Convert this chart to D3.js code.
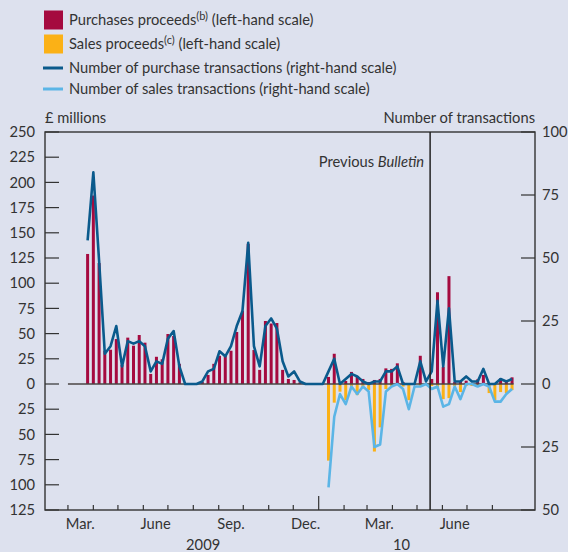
<!DOCTYPE html>
<html>
<head>
<meta charset="utf-8">
<script src="https://cdn.jsdelivr.net/npm/d3@7/dist/d3.min.js"></script>
<style>
  html, body { margin: 0; padding: 0; background: #dde1ee; }
  svg { display: block; }
  text { font-family: "Lato", "Open Sans", sans-serif; fill: #333; }
</style>
</head>
<body>
<svg id="chart" width="568" height="552"></svg>
<script>
// ---------- DATA ----------
const startWeek = "2009-03-25";          // first weekly observation
const purchases = [129,187,120,33,34,44.6,19,46,38,48.6,41,10,27,24.5,49.6,47.6,20,0,0,0,
  2,9,20,28,28,33,51.6,72.7,139,33.7,14,62.5,60,60.5,14,5,4,1.5,0,0,
  0,0,7,30,1,3,12,8,5,2,4,5,15.5,15,20.5,2,0,0,28,1,
  5,91,17,107,2,3,3.3,1,4.6,9,1,1,5.6,2,6.6];
const sales = [0,0,0,0,0,0,0,0,0,0,0,0,0,0,0,0,0,0,0,0,
  0,0,0,0,0,0,0,0,0,0,0,0,0,0,0,0,0,0,0,0,
  0,0,-76,-18.5,-7.6,-16,-2,-11,-3,-6,-67,-43,-5,-3,-1,-2.6,-16,-1,-2,0,
  -2,-3,-15,-14,-2,-8,-2,-2,-2,-1,-9,-16,-8,-9,-6];
const purchaseTx = [57,84,49,12,15,23,7,17,16,17,15,5,9,8,18,21,7,0,0,0,
  1,5,6,13,11,15,23,29,56,15,7,23,26,22,9,3,5,1,0,0,
  0,0,5,10,0,2,4,3,1,0,1,1,5,5,7,0,0,0,9,1,
  5,33,7,30,1,1,3,1,1,6,0,0,2,1,2];
const salesTx = [null,null,null,null,null,null,null,null,null,null,null,null,null,null,null,null,null,null,null,null,
  null,null,null,null,null,null,null,null,null,null,null,null,null,null,null,null,null,null,null,null,
  null,null,-41,-13,-4,-8,-1,-4,-1,-3,-25,-24,-3,-1,0,-2,-10,-1,-1,0,
  -2,-1,-9,-8,-1,-6,0,0,-1,0,-1,-7,-7,-4,-2];
const leftTicks = [250,225,200,175,150,125,100,75,50,25,0,-25,-50,-75,-100,-125];
const rightTicks = [100,75,50,25,0,-25,-50];
const monthLabels = [["2009-03-16","Mar."],["2009-06-16","June"],["2009-09-16","Sep."],["2009-12-16","Dec."],
  ["2010-03-16","Mar."],["2010-06-16","June"]];
const yearLabels = [["2009-08-13","2009"],["2010-04-12","10"]];
const bulletinDate = "2010-05-17";
const legendItems = [
  {type:"rect", color:"#a50a3f", text:"Purchases proceeds", sup:"(b)", rest:" (left-hand scale)"},
  {type:"rect", color:"#fbb116", text:"Sales proceeds", sup:"(c)", rest:" (left-hand scale)"},
  {type:"line", color:"#0a5a8c", text:"Number of purchase transactions (right-hand scale)"},
  {type:"line", color:"#5bb5e6", text:"Number of sales transactions (right-hand scale)"}
];

// ---------- SETUP ----------
const parse = d3.timeParse("%Y-%m-%d");
const t0 = parse(startWeek);
const dates = purchases.map((_, i) => d3.timeDay.offset(t0, 7 * i));
const svg = d3.select("#chart");
const FS = 14.7;

const L = 45, R = 535, T = 132, B = 510;
const x = d3.scaleTime().domain([parse("2009-02-01"), parse("2010-09-22")]).range([L, R]);
const yL = d3.scaleLinear().domain([-125, 250]).range([B, T]);
const yR = d3.scaleLinear().domain([-50, 100]).range([B, T]);

const COL_P = "#a50a3f", COL_S = "#fbb116", COL_PT = "#0a5a8c", COL_ST = "#5bb5e6";

// ---------- BARS ----------
const bw = 3;
svg.append("g").selectAll("rect").data(purchases).join("rect")
  .attr("x", (d, i) => x(dates[i]) - bw / 2)
  .attr("width", bw)
  .attr("y", d => yL(Math.max(d, 0)))
  .attr("height", d => Math.abs(yL(d) - yL(0)))
  .attr("fill", COL_P);
svg.append("g").selectAll("rect").data(sales).join("rect")
  .attr("x", (d, i) => x(dates[i]) - bw / 2)
  .attr("width", bw)
  .attr("y", d => yL(Math.max(d, 0)))
  .attr("height", d => Math.abs(yL(d) - yL(0)))
  .attr("fill", COL_S);

// zero line
svg.append("line")
  .attr("x1", x(parse("2009-03-01"))).attr("x2", x(dates[dates.length - 1]) + 1.5)
  .attr("y1", yL(0)).attr("y2", yL(0))
  .attr("stroke", "#4a4444").attr("stroke-width", 1.6);

// ---------- LINES ----------
const lineGen = d3.line()
  .defined(d => d != null)
  .x((d, i) => x(dates[i]))
  .y(d => yR(d));
svg.append("path").datum(salesTx).attr("d", lineGen)
  .attr("fill", "none").attr("stroke", COL_ST).attr("stroke-width", 2.6).attr("stroke-linejoin", "round");
svg.append("path").datum(purchaseTx).attr("d", lineGen)
  .attr("fill", "none").attr("stroke", COL_PT).attr("stroke-width", 2.6).attr("stroke-linejoin", "round");

// ---------- FRAME & AXES ----------
const axisCol = "#333";
svg.append("rect").attr("x", L).attr("y", T).attr("width", R - L).attr("height", B - T)
  .attr("fill", "none").attr("stroke", axisCol).attr("stroke-width", 1.4);

// left ticks
const gL = svg.append("g");
leftTicks.forEach(v => {
  gL.append("line").attr("x1", L).attr("x2", L + 14).attr("y1", yL(v)).attr("y2", yL(v))
    .attr("stroke", axisCol).attr("stroke-width", 1.2);
  gL.append("text").attr("x", 35).attr("y", yL(v)).attr("dy", "0.36em")
    .attr("text-anchor", "end").attr("font-size", FS).text(Math.abs(v));
});
// right ticks
const gR = svg.append("g");
rightTicks.forEach(v => {
  gR.append("line").attr("x1", R - 14).attr("x2", R).attr("y1", yR(v)).attr("y2", yR(v))
    .attr("stroke", axisCol).attr("stroke-width", 1.2);
  gR.append("text").attr("x", 542).attr("y", yR(v)).attr("dy", "0.36em")
    .attr("text-anchor", "start").attr("font-size", FS).text(Math.abs(v));
});

// bottom month ticks
const months = d3.timeMonth.range(parse("2009-03-01"), parse("2010-08-02"));
months.forEach(m => {
  const tall = m.getMonth() === 0;
  svg.append("line").attr("x1", x(m)).attr("x2", x(m))
    .attr("y1", B).attr("y2", B - (tall ? 14 : 5))
    .attr("stroke", axisCol).attr("stroke-width", 1.2);
});
monthLabels.forEach(([d, s]) => {
  svg.append("text").attr("x", x(parse(d))).attr("y", 529)
    .attr("text-anchor", "middle").attr("font-size", FS).text(s);
});
yearLabels.forEach(([d, s]) => {
  svg.append("text").attr("x", x(parse(d))).attr("y", 550)
    .attr("text-anchor", "middle").attr("font-size", FS).text(s);
});

// axis titles
svg.append("text").attr("x", L).attr("y", 123).attr("font-size", FS).text("£ millions");
svg.append("text").attr("x", R).attr("y", 123).attr("text-anchor", "end").attr("font-size", FS).text("Number of transactions");

// previous bulletin
const xb = x(parse(bulletinDate));
svg.append("line").attr("x1", xb).attr("x2", xb).attr("y1", T).attr("y2", B)
  .attr("stroke", "#222").attr("stroke-width", 1.5);
const pb = svg.append("text").attr("x", xb - 6).attr("y", 167).attr("text-anchor", "end").attr("font-size", FS);
pb.append("tspan").text("Previous ");
pb.append("tspan").attr("font-style", "italic").text("Bulletin");

// ---------- LEGEND ----------
const lg = svg.append("g");
const legendY = [20, 44, 68, 89];
legendItems.forEach((it, i) => {
  const cy = legendY[i];
  if (it.type === "rect") {
    lg.append("rect").attr("x", 44).attr("y", cy - 9.5).attr("width", 19).attr("height", 19).attr("fill", it.color);
  } else {
    lg.append("line").attr("x1", 43).attr("x2", 63).attr("y1", cy).attr("y2", cy)
      .attr("stroke", it.color).attr("stroke-width", 3);
  }
  const t = lg.append("text").attr("x", 69).attr("y", cy + 5).attr("font-size", FS);
  t.append("tspan").text(it.text);
  if (it.sup) {
    t.append("tspan").attr("font-size", 11).attr("dy", -5).text(it.sup);
    t.append("tspan").attr("dy", 5).text(it.rest);
  }
});
</script>
</body>
</html>
